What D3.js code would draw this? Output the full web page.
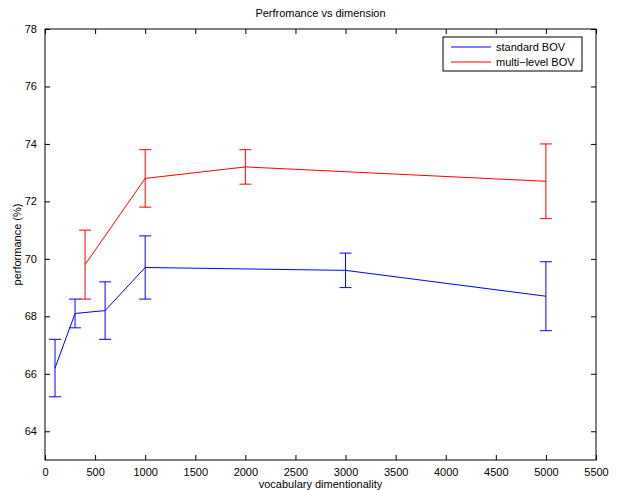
<!DOCTYPE html>
<html>
<head>
<meta charset="utf-8">
<script src="https://cdn.jsdelivr.net/npm/d3@7"></script>
<style>
  body { margin: 0; background: #fff; }
  text { font-family: "Liberation Sans", Arial, sans-serif; }
</style>
</head>
<body>
<div id="chart"></div>
<script>
// Data
const standardDims = [100, 300, 600, 1000, 3000, 5000];
const standardPerf = [66.2, 68.1, 68.2, 69.7, 69.6, 68.7];
const standardErr = [1.0, 0.5, 1.0, 1.1, 0.6, 1.2];

const multiDims = [400, 1000, 2000, 5000];
const multiPerf = [69.8, 72.8, 73.2, 72.7];
const multiErr = [1.2, 1.0, 0.6, 1.3];

const xTicks = [0, 500, 1000, 1500, 2000, 2500, 3000, 3500, 4000, 4500, 5000, 5500];
const yTicks = [64, 66, 68, 70, 72, 74, 76, 78];

const series = [
  { name: 'standard BOV', color: '#0000ff', dims: standardDims, perf: standardPerf, err: standardErr },
  { name: 'multi\u2212level BOV', color: '#ff0000', dims: multiDims, perf: multiPerf, err: multiErr },
];

// Chart dimensions
const margin = { top: 29, right: 23, bottom: 30, left: 45 };
const width = 619 - margin.left - margin.right;
const height = 490 - margin.top - margin.bottom;

const svg = d3
  .select('#chart')
  .append('svg')
  .attr('width', 619)
  .attr('height', 490)
  .append('g')
  .attr('transform', `translate(${margin.left}, ${margin.top})`);

const x = d3.scaleLinear().domain([0, 5500]).range([0, width]);
const y = d3.scaleLinear().domain([63, 78]).range([height, 0]);

// Title
svg
  .append('text')
  .attr('x', width / 2)
  .attr('y', -12)
  .attr('text-anchor', 'middle')
  .style('font-size', '11px')
  .text('Perfromance vs dimension');

// Axes: ticks pointing inward on all four sides
const tickLen = 5;
svg
  .append('g')
  .attr('transform', `translate(0, ${height})`)
  .call(d3.axisBottom(x).tickValues(xTicks).tickSize(-tickLen).tickPadding(8).tickSizeOuter(0).tickFormat(d3.format('d')))
  .call((g) => g.select('.domain').remove());
svg
  .append('g')
  .call(d3.axisTop(x).tickValues(xTicks).tickSize(-tickLen).tickFormat('').tickSizeOuter(0))
  .call((g) => g.select('.domain').remove());
svg
  .append('g')
  .call(d3.axisLeft(y).tickValues(yTicks).tickSize(-tickLen).tickPadding(8).tickSizeOuter(0))
  .call((g) => g.select('.domain').remove());
svg
  .append('g')
  .attr('transform', `translate(${width}, 0)`)
  .call(d3.axisRight(y).tickValues(yTicks).tickSize(-tickLen).tickFormat('').tickSizeOuter(0))
  .call((g) => g.select('.domain').remove());

svg.selectAll('.tick text').style('font-size', '11px').attr('fill', '#000');

svg
  .append('rect')
  .attr('width', width)
  .attr('height', height)
  .attr('fill', 'none')
  .attr('stroke', '#000')
  .attr('stroke-width', 1);

// Axis labels
svg
  .append('text')
  .attr('x', width / 2)
  .attr('y', height + 28)
  .attr('text-anchor', 'middle')
  .style('font-size', '11px')
  .text('vocabulary dimentionality');
svg
  .append('text')
  .attr('transform', `translate(-24, ${height / 2}) rotate(-90)`)
  .attr('text-anchor', 'middle')
  .style('font-size', '11px')
  .text('performance (%)');

// Lines and error bars
const line = d3
  .line()
  .x((d) => x(d.dim))
  .y((d) => y(d.perf));

const capHalf = 6;
series.forEach((s) => {
  const pts = s.dims.map((dim, i) => ({ dim, perf: s.perf[i], err: s.err[i] }));
  const g = svg.append('g').attr('stroke', s.color).attr('fill', 'none').attr('stroke-width', 1);
  g.append('path').attr('d', line(pts));
  const bars = g.selectAll('.err').data(pts).enter().append('g');
  bars
    .append('line')
    .attr('x1', (d) => x(d.dim))
    .attr('x2', (d) => x(d.dim))
    .attr('y1', (d) => y(d.perf - d.err))
    .attr('y2', (d) => y(d.perf + d.err));
  bars
    .append('line')
    .attr('x1', (d) => x(d.dim) - capHalf)
    .attr('x2', (d) => x(d.dim) + capHalf)
    .attr('y1', (d) => y(d.perf - d.err))
    .attr('y2', (d) => y(d.perf - d.err));
  bars
    .append('line')
    .attr('x1', (d) => x(d.dim) - capHalf)
    .attr('x2', (d) => x(d.dim) + capHalf)
    .attr('y1', (d) => y(d.perf + d.err))
    .attr('y2', (d) => y(d.perf + d.err));
});

// Legend
const legend = svg.append('g').attr('transform', `translate(${443 - margin.left}, ${37 - margin.top})`);
legend
  .append('rect')
  .attr('width', 139)
  .attr('height', 34)
  .attr('fill', '#fff')
  .attr('stroke', '#000');
series.forEach((s, i) => {
  const ly = 10 + i * 15;
  legend
    .append('line')
    .attr('x1', 8)
    .attr('x2', 48)
    .attr('y1', ly)
    .attr('y2', ly)
    .attr('stroke', s.color);
  legend
    .append('text')
    .attr('x', 53)
    .attr('y', ly + 4)
    .style('font-size', '11px')
    .text(s.name);
});
</script>
</body>
</html>
